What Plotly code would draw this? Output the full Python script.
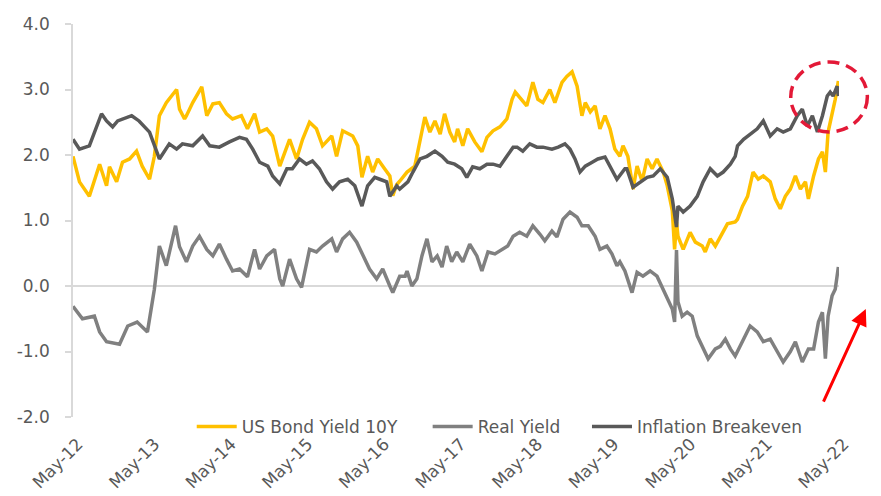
import plotly.graph_objects as go

# US 10Y nominal yield
bond_dates = [
    "2012-05-01", "2012-06-01", "2012-07-18", "2012-09-05", "2012-10-08", "2012-10-22",
    "2012-11-25", "2012-12-23", "2013-01-26", "2013-02-28", "2013-03-27", "2013-05-01",
    "2013-05-24", "2013-06-17", "2013-07-20", "2013-09-07", "2013-09-21", "2013-10-15",
    "2013-10-24", "2013-11-23", "2014-01-05", "2014-01-29", "2014-02-27", "2014-03-30",
    "2014-05-03", "2014-06-01", "2014-07-13", "2014-08-11", "2014-09-14", "2014-10-08",
    "2014-11-11", "2014-12-09", "2015-01-12", "2015-01-26", "2015-02-28", "2015-04-02",
    "2015-05-01", "2015-06-03", "2015-07-06", "2015-08-04", "2015-09-17", "2015-10-10",
    "2015-11-08", "2015-12-26", "2016-01-19", "2016-02-08", "2016-03-06", "2016-03-30",
    "2016-04-23", "2016-05-26", "2016-06-20", "2016-07-04", "2016-07-23", "2016-08-06",
    "2016-09-10", "2016-10-17", "2016-11-11", "2016-12-04", "2016-12-28", "2017-01-21",
    "2017-02-15", "2017-03-08", "2017-04-02", "2017-04-25", "2017-05-09", "2017-06-03",
    "2017-06-26", "2017-07-30", "2017-09-02", "2017-09-26", "2017-10-25", "2017-11-27",
    "2017-12-30", "2018-01-24", "2018-02-08", "2018-03-11", "2018-04-04", "2018-05-03",
    "2018-05-27", "2018-06-20", "2018-07-23", "2018-08-16", "2018-09-19", "2018-10-12",
    "2018-11-06", "2018-11-30", "2018-12-23", "2019-01-08", "2019-02-01", "2019-02-24",
    "2019-03-19", "2019-04-12", "2019-05-06", "2019-05-29", "2019-06-22", "2019-07-07",
    "2019-07-30", "2019-08-24", "2019-09-12", "2019-10-06", "2019-10-30", "2019-11-23",
    "2019-12-16", "2020-01-15", "2020-02-03", "2020-02-27", "2020-03-09", "2020-03-18",
    "2020-03-25", "2020-04-19", "2020-05-22", "2020-06-16", "2020-07-19", "2020-08-02",
    "2020-08-26", "2020-09-19", "2020-10-13", "2020-11-16", "2020-12-23", "2021-01-03",
    "2021-01-27", "2021-02-20", "2021-03-18", "2021-04-12", "2021-05-06", "2021-06-08",
    "2021-07-02", "2021-07-26", "2021-08-19", "2021-09-12", "2021-10-06", "2021-10-30",
    "2021-11-23", "2021-12-07", "2022-01-01", "2022-01-24", "2022-02-12", "2022-02-26",
    "2022-03-11", "2022-03-30", "2022-04-14", "2022-04-29",
]
bond_yield = [
    1.98, 1.59, 1.37, 1.86, 1.53, 1.82,
    1.59, 1.89, 1.94, 2.06, 1.83, 1.63,
    1.98, 2.60, 2.80, 3.00, 2.70, 2.55,
    2.60, 2.80, 3.04, 2.60, 2.78, 2.80,
    2.63, 2.55, 2.60, 2.40, 2.63, 2.35,
    2.40, 2.29, 1.83, 1.95, 2.24, 1.94,
    2.24, 2.50, 2.40, 2.14, 2.29, 1.98,
    2.37, 2.29, 2.14, 1.66, 1.98, 1.74,
    1.94, 1.79, 1.68, 1.38, 1.55, 1.60,
    1.74, 1.83, 2.20, 2.58, 2.35, 2.52,
    2.32, 2.63, 2.35, 2.20, 2.40, 2.14,
    2.40, 2.20, 2.05, 2.27, 2.37, 2.43,
    2.55, 2.85, 2.96, 2.85, 2.75, 3.11,
    2.85, 2.80, 3.00, 2.80, 3.11, 3.20,
    3.27, 3.05, 2.60, 2.80, 2.66, 2.75,
    2.40, 2.60, 2.40, 2.09, 1.98, 2.14,
    1.98, 1.48, 1.83, 1.60, 1.94, 1.79,
    1.94, 1.74, 1.53, 1.15, 0.56, 0.98,
    0.76, 0.56, 0.82, 0.67, 0.61, 0.52,
    0.72, 0.61, 0.76, 0.95, 0.98, 1.02,
    1.22, 1.37, 1.74, 1.63, 1.68, 1.59,
    1.33, 1.18, 1.37, 1.48, 1.68, 1.48,
    1.59, 1.33, 1.68, 1.94, 2.05, 1.74,
    2.35, 2.60, 2.85, 3.13,
]

# US 10Y real yield (TIPS)
real_dates = [
    "2012-05-01", "2012-06-15", "2012-08-11", "2012-09-05", "2012-10-08", "2012-12-09",
    "2013-01-17", "2013-03-03", "2013-04-21", "2013-05-24", "2013-06-17", "2013-07-20",
    "2013-09-02", "2013-09-21", "2013-10-24", "2013-11-23", "2013-12-25", "2014-01-29",
    "2014-02-27", "2014-03-30", "2014-05-03", "2014-06-01", "2014-07-04", "2014-08-11",
    "2014-09-14", "2014-10-08", "2014-11-11", "2014-12-18", "2015-01-12", "2015-01-26",
    "2015-02-28", "2015-04-02", "2015-04-26", "2015-05-19", "2015-06-03", "2015-07-06",
    "2015-08-04", "2015-09-17", "2015-10-10", "2015-11-08", "2015-12-11", "2016-01-14",
    "2016-02-12", "2016-03-15", "2016-04-18", "2016-05-17", "2016-06-20", "2016-07-04",
    "2016-08-06", "2016-09-01", "2016-09-10", "2016-10-03", "2016-10-27", "2016-11-20",
    "2016-12-14", "2017-01-07", "2017-02-01", "2017-02-24", "2017-03-18", "2017-04-11",
    "2017-05-05", "2017-06-03", "2017-07-06", "2017-08-09", "2017-09-02", "2017-10-01",
    "2017-11-03", "2017-12-06", "2018-01-03", "2018-01-29", "2018-03-01", "2018-04-04",
    "2018-05-03", "2018-06-06", "2018-06-29", "2018-08-02", "2018-08-26", "2018-09-24",
    "2018-10-27", "2018-11-30", "2018-12-23", "2019-01-22", "2019-02-24", "2019-03-19",
    "2019-04-21", "2019-05-15", "2019-06-08", "2019-06-22", "2019-07-16", "2019-08-19",
    "2019-09-12", "2019-10-10", "2019-11-13", "2019-12-16", "2020-01-15", "2020-02-08",
    "2020-02-27", "2020-03-09", "2020-03-18", "2020-03-25", "2020-04-14", "2020-05-08",
    "2020-06-01", "2020-06-25", "2020-07-23", "2020-08-16", "2020-09-19", "2020-10-13",
    "2020-11-06", "2020-11-30", "2020-12-23", "2021-02-01", "2021-03-04", "2021-04-07",
    "2021-05-06", "2021-06-08", "2021-07-11", "2021-08-09", "2021-09-12", "2021-10-06",
    "2021-11-08", "2021-12-07", "2022-01-01", "2022-01-24", "2022-02-12", "2022-02-26",
    "2022-03-11", "2022-03-30", "2022-04-14", "2022-04-29",
]
real_yield = [
    -0.31, -0.50, -0.46, -0.70, -0.85, -0.89,
    -0.61, -0.55, -0.70, -0.05, 0.61, 0.31,
    0.92, 0.60, 0.37, 0.61, 0.76, 0.56,
    0.46, 0.64, 0.41, 0.23, 0.26, 0.14,
    0.56, 0.26, 0.46, 0.56, 0.11, 0.00,
    0.41, 0.11, -0.02, 0.37, 0.56, 0.52,
    0.61, 0.72, 0.52, 0.72, 0.82, 0.67,
    0.46, 0.26, 0.11, 0.26, 0.00, -0.10,
    0.15, 0.15, 0.23, 0.00, 0.11, 0.46,
    0.72, 0.37, 0.46, 0.29, 0.61, 0.37,
    0.52, 0.37, 0.64, 0.46, 0.23, 0.52,
    0.49, 0.56, 0.61, 0.76, 0.82, 0.76,
    0.92, 0.79, 0.69, 0.84, 0.75, 1.02,
    1.13, 1.05, 0.92, 0.92, 0.76, 0.56,
    0.61, 0.49, 0.31, 0.37, 0.23, -0.10,
    0.21, 0.15, 0.23, 0.15, -0.05, -0.20,
    -0.35, -0.55, 0.55, -0.24, -0.46, -0.40,
    -0.46, -0.76, -0.96, -1.11, -0.96, -0.92,
    -0.81, -0.96, -1.07, -0.81, -0.61, -0.70,
    -0.85, -0.81, -1.00, -1.16, -1.00, -0.85,
    -1.16, -0.96, -0.96, -0.55, -0.40, -1.11,
    -0.46, -0.15, -0.05, 0.29,
]

# 10Y inflation breakeven
be_dates = [
    "2012-05-01", "2012-06-01", "2012-07-18", "2012-09-14", "2012-10-08", "2012-11-06",
    "2012-11-30", "2013-02-05", "2013-03-12", "2013-05-01", "2013-06-17", "2013-08-03",
    "2013-09-07", "2013-10-05", "2013-11-23", "2014-01-09", "2014-02-12", "2014-03-30",
    "2014-05-17", "2014-07-04", "2014-08-06", "2014-09-05", "2014-10-08", "2014-11-16",
    "2014-12-09", "2015-01-12", "2015-02-15", "2015-03-13", "2015-04-16", "2015-05-19",
    "2015-06-17", "2015-07-20", "2015-08-23", "2015-09-21", "2015-10-24", "2015-12-02",
    "2016-01-05", "2016-02-08", "2016-03-06", "2016-04-09", "2016-05-03", "2016-06-05",
    "2016-06-20", "2016-07-23", "2016-08-06", "2016-09-14", "2016-10-08", "2016-11-11",
    "2016-12-14", "2017-01-21", "2017-02-24", "2017-03-23", "2017-04-25", "2017-05-29",
    "2017-06-22", "2017-07-20", "2017-08-23", "2017-09-26", "2017-10-25", "2017-11-27",
    "2017-12-30", "2018-01-29", "2018-02-17", "2018-03-16", "2018-04-18", "2018-05-22",
    "2018-06-20", "2018-08-02", "2018-09-01", "2018-10-03", "2018-10-27", "2018-11-20",
    "2018-12-14", "2019-01-08", "2019-02-10", "2019-03-09", "2019-04-12", "2019-05-06",
    "2019-06-08", "2019-07-16", "2019-07-25", "2019-08-24", "2019-09-26", "2019-10-30",
    "2019-11-28", "2020-01-01", "2020-02-03", "2020-02-27", "2020-03-18", "2020-03-25",
    "2020-04-19", "2020-05-22", "2020-06-25", "2020-07-23", "2020-08-26", "2020-09-29",
    "2020-10-27", "2020-11-30", "2020-12-23", "2021-01-03", "2021-02-01", "2021-03-04",
    "2021-04-07", "2021-05-06", "2021-06-08", "2021-07-11", "2021-08-09", "2021-09-12",
    "2021-10-15", "2021-11-08", "2021-12-02", "2021-12-26", "2022-01-19", "2022-02-12",
    "2022-03-07", "2022-03-21", "2022-04-04", "2022-04-23", "2022-04-29",
]
breakeven = [
    2.24, 2.09, 2.14, 2.63, 2.52, 2.43,
    2.52, 2.60, 2.52, 2.35, 1.94, 2.17,
    2.09, 2.17, 2.14, 2.29, 2.14, 2.12,
    2.20, 2.27, 2.24, 2.09, 1.89, 1.83,
    1.68, 1.56, 1.79, 1.79, 1.94, 1.86,
    1.91, 1.79, 1.59, 1.48, 1.59, 1.63,
    1.53, 1.22, 1.53, 1.66, 1.63, 1.59,
    1.37, 1.53, 1.48, 1.59, 1.74, 1.94,
    1.98, 2.06, 1.98, 1.89, 1.86, 1.79,
    1.66, 1.82, 1.79, 1.86, 1.86, 1.83,
    1.98, 2.12, 2.12, 2.06, 2.17, 2.12,
    2.12, 2.09, 2.12, 2.17, 2.09, 1.94,
    1.74, 1.83, 1.89, 1.94, 1.97, 1.83,
    1.63, 1.79, 1.79, 1.51, 1.59, 1.66,
    1.68, 1.79, 1.66, 1.33, 0.90, 1.22,
    1.13, 1.22, 1.37, 1.59, 1.79, 1.68,
    1.74, 1.86, 1.98, 2.14, 2.24, 2.32,
    2.40, 2.52, 2.29, 2.40, 2.35, 2.40,
    2.60, 2.70, 2.44, 2.60, 2.35, 2.60,
    2.90, 2.96, 2.90, 3.05, 2.90,
]

# y axis ticks, written with a plain hyphen like the original
y_ticks = [-2, -1, 0, 1, 2, 3, 4]
y_tick_labels = ["-2.0", "-1.0", "0.0", "1.0", "2.0", "3.0", "4.0"]

FONT = "DejaVu Sans"
TXT = "#595959"
AXIS = "#D9D9D9"
X_RANGE = ["2012-05-01", "2022-05-02"]

fig = go.Figure()
fig.add_trace(go.Scatter(x=bond_dates, y=bond_yield, mode="lines", name="US Bond Yield 10Y",
                         line=dict(color="#FFC000", width=3.5), legend="legend"))
fig.add_trace(go.Scatter(x=real_dates, y=real_yield, mode="lines", name="Real Yield",
                         line=dict(color="#808080", width=3.5), legend="legend2"))
fig.add_trace(go.Scatter(x=be_dates, y=breakeven, mode="lines", name="Inflation Breakeven",
                         line=dict(color="#595959", width=3.5), legend="legend3"))

# Circle round the latest breakeven peak
fig.add_shape(type="circle", xref="paper", yref="paper",
              x0=0.937, x1=1.037, y0=0.738, y1=0.908,
              line=dict(color="#E31937", width=3.5, dash="12px,7px"))

# Red arrow pointing up at the real yield jump
fig.add_annotation(xref="paper", yref="paper", x=1.035, y=0.308,
                   ax=-43, ay=94, text="", showarrow=True,
                   arrowhead=2, arrowsize=1.1, arrowwidth=3, arrowcolor="#FF0000")


def legend_box(x):
    return dict(orientation="h", x=x, y=0.022, xanchor="left", yanchor="middle",
                font=dict(family=FONT, size=17, color=TXT), itemwidth=40,
                bgcolor="rgba(0,0,0,0)")


# the page keeps an 8px body margin, so the figure is 8px smaller than the window
fig.update_layout(
    width=873, height=488,
    margin=dict(l=65, r=42, t=16, b=60, autoexpand=False),
    plot_bgcolor="white", paper_bgcolor="white",
    font=dict(family=FONT, size=17, color=TXT),
    showlegend=True,
    legend=legend_box(0.155),
    legend2=legend_box(0.463),
    legend3=legend_box(0.671),
    xaxis=dict(type="date", range=X_RANGE,
               tick0="2012-05-01", dtick="M12", tickformat="%b-%y", tickangle=-45,
               showgrid=False, showline=False, zeroline=False, ticks="",
               anchor="free", position=0.015, automargin=False, ticklabelshift=5,
               tickfont=dict(family=FONT, size=17, color=TXT)),
    # small year ticks hanging from the zero line
    xaxis2=dict(type="date", range=X_RANGE, matches="x", overlaying="x",
                tick0="2012-05-01", dtick="M12", showticklabels=False,
                ticks="outside", ticklen=5, tickcolor=AXIS, tickwidth=1.5,
                showgrid=False, showline=False, zeroline=False,
                anchor="free", position=0.364, automargin=False),
    yaxis=dict(range=[-2, 4], tickvals=y_ticks, ticktext=y_tick_labels, domain=[0.046, 1],
               showgrid=False, showline=True, linecolor=AXIS, linewidth=1.5,
               ticks="outside", ticklen=6, tickcolor=AXIS, tickwidth=1.5,
               ticklabelstandoff=12,
               zeroline=True, zerolinecolor=AXIS, zerolinewidth=1.5,
               automargin=False,
               tickfont=dict(family=FONT, size=17, color=TXT)),
)

fig.write_html("out.html")
